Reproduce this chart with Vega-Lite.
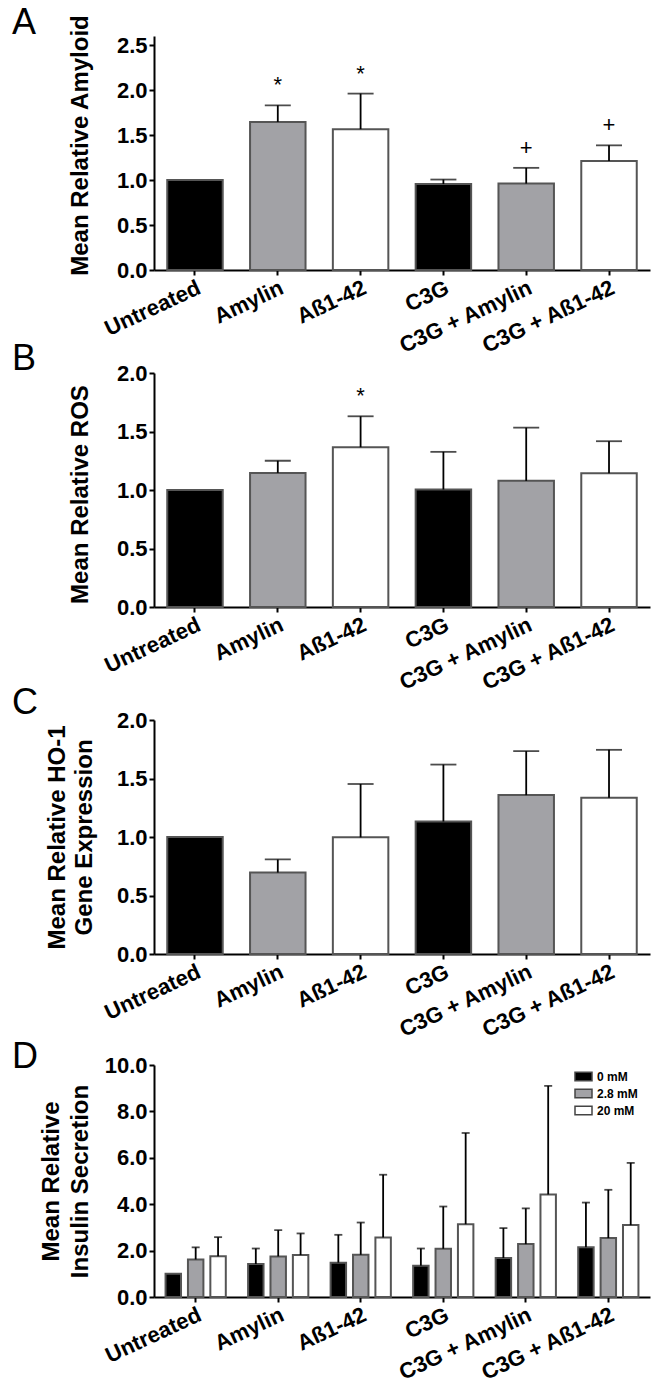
{
  "$schema": "https://vega.github.io/schema/vega-lite/v6.json",
  "padding": {"left": 12, "top": 5, "right": 5, "bottom": 0},
  "spacing": -9,
  "resolve": {"scale": {"fill": "independent"}, "legend": {"fill": "independent"}},
  "config": {
    "view": {"stroke": null},
    "font": "Liberation Sans",
    "axis": {"domainColor": "black", "domainWidth": 2, "tickColor": "black", "tickWidth": 2, "tickSize": 5, "labelColor": "black", "labelFont": "Liberation Sans", "labelFontWeight": "bold", "labelFontSize": 22, "titleFont": "Liberation Sans", "titleFontWeight": "bold", "titleFontSize": 24, "titleColor": "black", "grid": false},
    "title": {"fontSize": 36, "fontWeight": "normal", "anchor": "start", "frame": "group", "color": "black", "font": "Liberation Sans", "offset": 0}
  },
  "vconcat": [
    {
      "spacing": -16,
      "resolve": {"scale": {"fill": "independent"}, "legend": {"fill": "independent"}},
      "vconcat": [
        {
          "title": {"text": "A", "dx": -142, "dy": 32},
          "width": 496, "height": 234,
          "data": {"values": [
            {"group": "Untreated", "agent": "None", "mean": 1.0, "upper": null, "sig": ""},
            {"group": "Amylin", "agent": "Amylin", "mean": 1.645, "upper": 1.83, "sig": "*"},
            {"group": "Aß1-42", "agent": "Aß1-42", "mean": 1.565, "upper": 1.96, "sig": "*"},
            {"group": "C3G", "agent": "None", "mean": 0.955, "upper": 1.005, "sig": ""},
            {"group": "C3G + Amylin", "agent": "Amylin", "mean": 0.96, "upper": 1.135, "sig": "+"},
            {"group": "C3G + Aß1-42", "agent": "Aß1-42", "mean": 1.21, "upper": 1.385, "sig": "+"}
          ]},
          "encoding": {"x": {"field": "group", "type": "nominal", "sort": null, "scale": {"paddingInner": 0.33, "paddingOuter": 0.16}, "axis": {"title": null, "labelAngle": -25}}},
          "layer": [
            {"mark": {"type": "bar", "stroke": "#555555", "strokeWidth": 2}, "encoding": {
              "y": {"field": "mean", "type": "quantitative", "scale": {"domain": [0, 2.5]}, "axis": {"values": [0, 0.5, 1, 1.5, 2, 2.5], "format": ".1f", "title": "Mean Relative Amyloid", "titleX": -62, "titleY": 109}},
              "fill": {"field": "agent", "type": "nominal", "scale": {"domain": ["None", "Amylin", "Aß1-42"], "range": ["#000000", "#a2a2a6", "#ffffff"]}, "legend": null}}},
            {"mark": {"type": "rule", "strokeWidth": 1.8, "color": "black"}, "encoding": {"y": {"field": "upper", "type": "quantitative"}, "y2": {"field": "mean"}}},
            {"mark": {"type": "tick", "size": 26, "thickness": 1.8, "color": "black"}, "encoding": {"y": {"field": "upper", "type": "quantitative"}}},
            {"mark": {"type": "text", "dy": -20, "fontSize": 22, "color": "black"}, "encoding": {"y": {"field": "upper", "type": "quantitative"}, "text": {"field": "sig"}}}
          ]
        },
        {
          "title": {"text": "B", "dx": -142, "dy": 20},
          "width": 496, "height": 234,
          "data": {"values": [
            {"group": "Untreated", "agent": "None", "mean": 1.0, "upper": null, "sig": ""},
            {"group": "Amylin", "agent": "Amylin", "mean": 1.146, "upper": 1.25, "sig": ""},
            {"group": "Aß1-42", "agent": "Aß1-42", "mean": 1.366, "upper": 1.63, "sig": "*"},
            {"group": "C3G", "agent": "None", "mean": 1.004, "upper": 1.326, "sig": ""},
            {"group": "C3G + Amylin", "agent": "Amylin", "mean": 1.078, "upper": 1.533, "sig": ""},
            {"group": "C3G + Aß1-42", "agent": "Aß1-42", "mean": 1.144, "upper": 1.417, "sig": ""}
          ]},
          "encoding": {"x": {"field": "group", "type": "nominal", "sort": null, "scale": {"paddingInner": 0.33, "paddingOuter": 0.16}, "axis": {"title": null, "labelAngle": -25}}},
          "layer": [
            {"mark": {"type": "bar", "stroke": "#555555", "strokeWidth": 2}, "encoding": {
              "y": {"field": "mean", "type": "quantitative", "scale": {"domain": [0, 2]}, "axis": {"values": [0, 0.5, 1, 1.5, 2], "format": ".1f", "title": "Mean Relative ROS", "titleX": -62, "titleY": 121}},
              "fill": {"field": "agent", "type": "nominal", "scale": {"domain": ["None", "Amylin", "Aß1-42"], "range": ["#000000", "#a2a2a6", "#ffffff"]}, "legend": null}}},
            {"mark": {"type": "rule", "strokeWidth": 1.8, "color": "black"}, "encoding": {"y": {"field": "upper", "type": "quantitative"}, "y2": {"field": "mean"}}},
            {"mark": {"type": "tick", "size": 26, "thickness": 1.8, "color": "black"}, "encoding": {"y": {"field": "upper", "type": "quantitative"}}},
            {"mark": {"type": "text", "dy": -20, "fontSize": 22, "color": "black"}, "encoding": {"y": {"field": "upper", "type": "quantitative"}, "text": {"field": "sig"}}}
          ]
        }
      ]
    },
    {
      "spacing": -2,
      "resolve": {"scale": {"fill": "independent"}, "legend": {"fill": "independent"}},
      "vconcat": [
        {
          "title": {"text": "C", "dx": -142, "dy": 17},
          "width": 496, "height": 234,
          "data": {"values": [
            {"group": "Untreated", "agent": "None", "mean": 1.0, "upper": null},
            {"group": "Amylin", "agent": "Amylin", "mean": 0.696, "upper": 0.808},
            {"group": "Aß1-42", "agent": "Aß1-42", "mean": 0.997, "upper": 1.453},
            {"group": "C3G", "agent": "None", "mean": 1.132, "upper": 1.619},
            {"group": "C3G + Amylin", "agent": "Amylin", "mean": 1.358, "upper": 1.734},
            {"group": "C3G + Aß1-42", "agent": "Aß1-42", "mean": 1.335, "upper": 1.745}
          ]},
          "encoding": {"x": {"field": "group", "type": "nominal", "sort": null, "scale": {"paddingInner": 0.33, "paddingOuter": 0.16}, "axis": {"title": null, "labelAngle": -25}}},
          "layer": [
            {"mark": {"type": "bar", "stroke": "#555555", "strokeWidth": 2}, "encoding": {
              "y": {"field": "mean", "type": "quantitative", "scale": {"domain": [0, 2]}, "axis": {"values": [0, 0.5, 1, 1.5, 2], "format": ".1f", "title": ["Mean Relative HO-1", "Gene Expression"], "titleX": -85, "titleLineHeight": 27}},
              "fill": {"field": "agent", "type": "nominal", "scale": {"domain": ["None", "Amylin", "Aß1-42"], "range": ["#000000", "#a2a2a6", "#ffffff"]}, "legend": null}}},
            {"mark": {"type": "rule", "strokeWidth": 1.8, "color": "black"}, "encoding": {"y": {"field": "upper", "type": "quantitative"}, "y2": {"field": "mean"}}},
            {"mark": {"type": "tick", "size": 26, "thickness": 1.8, "color": "black"}, "encoding": {"y": {"field": "upper", "type": "quantitative"}}}
          ]
        },
        {
          "title": {"text": "D", "dx": -142, "dy": 26},
          "width": 496, "height": 232,
          "data": {"values": [
            {"group": "Untreated", "glucose": "0 mM", "mean": 1.0, "upper": null},
            {"group": "Untreated", "glucose": "2.8 mM", "mean": 1.62, "upper": 2.14},
            {"group": "Untreated", "glucose": "20 mM", "mean": 1.76, "upper": 2.58},
            {"group": "Amylin", "glucose": "0 mM", "mean": 1.42, "upper": 2.09},
            {"group": "Amylin", "glucose": "2.8 mM", "mean": 1.75, "upper": 2.88},
            {"group": "Amylin", "glucose": "20 mM", "mean": 1.81, "upper": 2.74},
            {"group": "Aß1-42", "glucose": "0 mM", "mean": 1.48, "upper": 2.68},
            {"group": "Aß1-42", "glucose": "2.8 mM", "mean": 1.82, "upper": 3.21},
            {"group": "Aß1-42", "glucose": "20 mM", "mean": 2.57, "upper": 5.27},
            {"group": "C3G", "glucose": "0 mM", "mean": 1.35, "upper": 2.09},
            {"group": "C3G", "glucose": "2.8 mM", "mean": 2.08, "upper": 3.9},
            {"group": "C3G", "glucose": "20 mM", "mean": 3.14, "upper": 7.07},
            {"group": "C3G + Amylin", "glucose": "0 mM", "mean": 1.68, "upper": 2.97},
            {"group": "C3G + Amylin", "glucose": "2.8 mM", "mean": 2.28, "upper": 3.82},
            {"group": "C3G + Amylin", "glucose": "20 mM", "mean": 4.42, "upper": 9.1},
            {"group": "C3G + Aß1-42", "glucose": "0 mM", "mean": 2.14, "upper": 4.07},
            {"group": "C3G + Aß1-42", "glucose": "2.8 mM", "mean": 2.54, "upper": 4.62},
            {"group": "C3G + Aß1-42", "glucose": "20 mM", "mean": 3.1, "upper": 5.78}
          ]},
          "encoding": {
            "x": {"field": "group", "type": "nominal", "sort": null, "scale": {"paddingInner": 0.27, "paddingOuter": 0.14}, "axis": {"title": null, "labelAngle": -25}},
            "xOffset": {"field": "glucose", "type": "nominal", "sort": null, "scale": {"paddingInner": 0.31}}
          },
          "layer": [
            {"mark": {"type": "bar", "stroke": "#555555", "strokeWidth": 2}, "encoding": {
              "y": {"field": "mean", "type": "quantitative", "scale": {"domain": [0, 10]}, "axis": {"values": [0, 2, 4, 6, 8, 10], "format": ".1f", "title": ["Mean Relative", "Insulin Secretion"], "titleX": -91, "titleLineHeight": 29}},
              "fill": {"field": "glucose", "type": "nominal", "sort": null, "scale": {"domain": ["0 mM", "2.8 mM", "20 mM"], "range": ["#000000", "#a2a2a6", "#ffffff"]},
                "legend": {"orient": "none", "legendX": 420, "legendY": 2, "title": null, "labelFontSize": 12, "labelFontWeight": "bold", "labelColor": "black", "symbolType": "M-1,-0.5H1V0.5H-1Z", "symbolSize": 289, "symbolStrokeColor": "#444444", "symbolStrokeWidth": 1.5, "rowPadding": 0, "labelOffset": 4}}}},
            {"mark": {"type": "rule", "strokeWidth": 1.8, "color": "black"}, "encoding": {"y": {"field": "upper", "type": "quantitative"}, "y2": {"field": "mean"}}},
            {"mark": {"type": "tick", "size": 8, "thickness": 1.8, "color": "black"}, "encoding": {"y": {"field": "upper", "type": "quantitative"}}}
          ]
        }
      ]
    }
  ]
}
